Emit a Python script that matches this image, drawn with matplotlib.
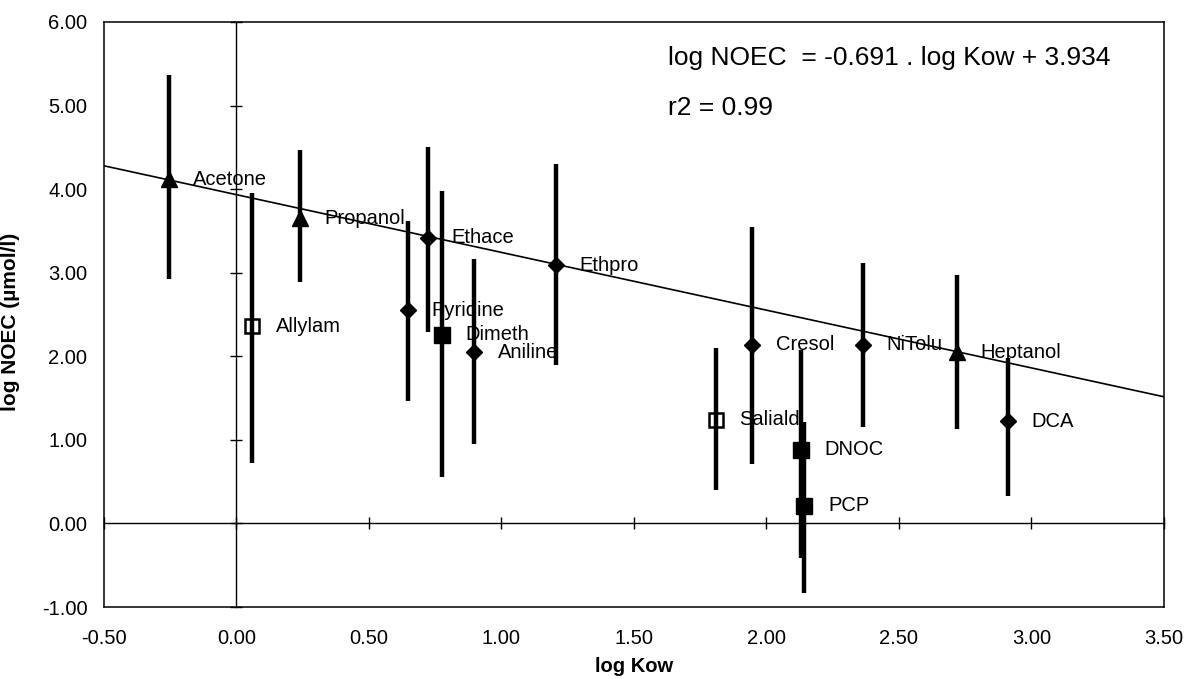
import numpy as np
import matplotlib
matplotlib.use("Agg")
import matplotlib.pyplot as plt
from matplotlib.ticker import FormatStrFormatter

plt.rcParams['font.family'] = ['Liberation Sans', 'DejaVu Sans']
plt.rcParams['axes.unicode_minus'] = False

# ---- data ----
compounds = ["Acetone", "Propanol", "Allylam", "Pyridine", "Ethace", "Dimeth",
             "Aniline", "Ethpro", "Saliald", "Cresol", "DNOC", "PCP",
             "NiTolu", "Heptanol", "DCA"]
log_kow = [-0.255, 0.241, 0.059, 0.648, 0.723, 0.776,
           0.897, 1.206, 1.808, 1.946, 2.131, 2.143,
           2.363, 2.718, 2.911]
log_noec = [4.12, 3.65, 2.36, 2.55, 3.42, 2.26,
            2.05, 3.09, 1.24, 2.14, 0.88, 0.21,
            2.14, 2.05, 1.22]
noec_low = [2.92, 2.89, 0.72, 1.46, 2.29, 0.56,
            0.95, 1.90, 0.40, 0.71, -0.41, -0.83,
            1.15, 1.13, 0.33]
noec_high = [5.36, 4.47, 3.95, 3.62, 4.51, 3.98,
             3.16, 4.30, 2.10, 3.55, 2.07, 1.21,
             3.12, 2.97, 1.98]
group = ["tri", "tri", "open", "dia", "dia", "sq",
         "dia", "dia", "open", "dia", "sq", "sq",
         "dia", "tri", "dia"]

fit_slope = -0.691
fit_intercept = 3.934
r2 = 0.99

x_ticks = [-0.5, 0.0, 0.5, 1.0, 1.5, 2.0, 2.5, 3.0, 3.5]
y_ticks = [-1, 0, 1, 2, 3, 4, 5, 6]

# ---- figure ----
fig = plt.figure(figsize=(11.92, 6.79), dpi=100)
pos = [0.0872, 0.106, 0.8893, 0.8616]
ax = fig.add_axes(pos)
ax.set_xlim(-0.5, 3.5)
ax.set_ylim(-1, 6)
ax.set_xticks(x_ticks)
ax.set_yticks(y_ticks)
ax.xaxis.set_major_formatter(FormatStrFormatter('%.2f'))
ax.yaxis.set_major_formatter(FormatStrFormatter('%.2f'))
ax.tick_params(axis='both', length=0, labelsize=14.5)
ax.tick_params(axis='x', pad=16)
ax.tick_params(axis='y', pad=12)
for s in ax.spines.values():
    s.set_linewidth(1.1)
ax.set_xlabel("log Kow", fontsize=14.5, fontweight='bold', labelpad=6)
ax.set_ylabel("log NOEC (µmol/l)", fontsize=15, fontweight='bold')
ax.yaxis.set_label_coords(-0.079, 0.487)

# overlay axes: crossing axis lines at zero + data
ax2 = fig.add_axes(pos, sharex=ax, sharey=ax)
ax2.patch.set_visible(False)
ax2.spines['top'].set_visible(False)
ax2.spines['right'].set_visible(False)
ax2.spines['left'].set_position(('data', 0))
ax2.spines['bottom'].set_position(('data', 0))
ax2.spines['left'].set_linewidth(1.0)
ax2.spines['bottom'].set_linewidth(1.0)
ax2.tick_params(axis='both', direction='inout', length=9, width=1.0,
                labelleft=False, labelbottom=False)

# regression line
xl = np.array(ax.get_xlim())
ax2.plot(xl, fit_slope * xl + fit_intercept, color='black', lw=1.2, zorder=2)

x = np.array(log_kow)
y = np.array(log_noec)
lo = np.array(noec_low)
hi = np.array(noec_high)
ax2.errorbar(x, y, yerr=[y - lo, hi - y], fmt='none', ecolor='black',
             elinewidth=3.2, capsize=0, zorder=3)

styles = {
    "tri": dict(marker='^', ms=12, mfc='black', mec='black'),
    "dia": dict(marker='D', ms=8.5, mfc='black', mec='black'),
    "sq": dict(marker='s', ms=11, mfc='black', mec='black'),
    "open": dict(marker='s', ms=10, mfc='none', mec='black', mew=1.8),
}
for g, st in styles.items():
    idx = [i for i, gg in enumerate(group) if gg == g]
    ax2.plot(x[idx], y[idx], linestyle='none', zorder=4, **st)

for name, xi, yi in zip(compounds, log_kow, log_noec):
    ax2.annotate(name, (xi, yi), xytext=(17, 0), textcoords='offset points',
                 ha='left', va='center', fontsize=14.5, zorder=5)

ax2.text(0.532, 0.938, f"log NOEC  = {fit_slope:.3f} . log Kow + {fit_intercept:.3f}",
         transform=ax2.transAxes, fontsize=19, ha='left', va='center')
ax2.text(0.532, 0.853, f"r2 = {r2:.2f}", transform=ax2.transAxes,
         fontsize=19, ha='left', va='center')

fig.savefig("out.png", dpi=100)
